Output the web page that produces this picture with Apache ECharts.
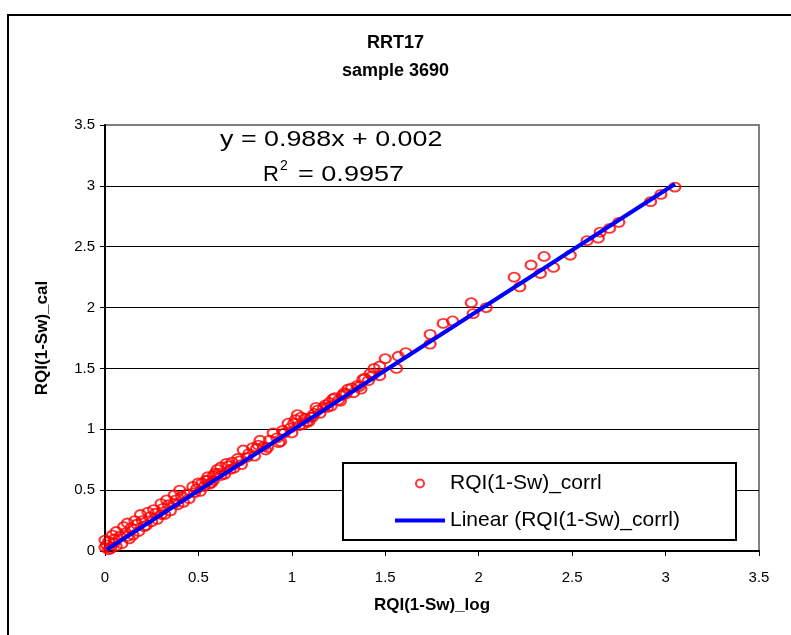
<!DOCTYPE html>
<html>
<head>
<meta charset="utf-8">
<script src="https://cdn.jsdelivr.net/npm/echarts@6/dist/echarts.min.js"></script>
<style>html,body{margin:0;padding:0;background:#fff;}#c{width:791px;height:635px;}</style>
</head>
<body>
<div id="c"></div>
<script>
// RQI(1-Sw)_log values (x) and RQI(1-Sw)_cal values (y)
var xLog = [3.05,2.975,2.92,2.75,2.70,2.65,2.64,2.58,2.49,2.40,2.35,2.33,2.28,2.22,2.19,2.04,1.97,1.96,1.86,1.81,1.74,1.74,1.61,1.57,1.56,1.50,1.47,1.44,1.42,1.47,1.39,1.38,1.36,1.32,1.30,1.28,1.27,1.25,1.23,1.20,1.19,1.17,1.14,1.12,1.10,1.07,1.05,1.06,
1.13,1.08,1.03,1.02,0.98,0.95,0.90,0.83,0.82,0.79,0.74,0.71,0.68,0.65,0.62,0.60,0.58,0.55,0.54,0.52,0.94,0.87,0.76,0.67,0.62,
0.59,0.55,0.50,0.47,0.40,0.37,0.33,0.30,0.26,0.23,0.19,0.16,0.12,0.10,0.06,0.04,0.00,0.00,0.02,0.48,0.39,0.30,0.21,0.12,0.05,0.57,0.37,
0.01,0.02,0.03,0.05,0.06,0.08,0.09,0.11,0.13,0.14,0.15,0.17,0.18,0.20,0.22,0.24,0.25,0.27,0.28,0.31,0.32,0.34,0.35,0.38,0.41,0.42,0.44,0.45,0.49,0.51,0.53,0.56,0.58,0.61,0.64,0.66,0.69,0.72,0.73,0.77,0.80,0.81,0.85,0.86,0.88,0.92,0.93,0.96,0.99,1.00,1.01,1.04,1.09,1.11,1.15,1.18,1.21,1.22,1.26,1.29,1.33,1.35,1.37,1.41,1.43];
var yCal = [2.99,2.93,2.87,2.70,2.65,2.62,2.57,2.55,2.43,2.33,2.42,2.28,2.35,2.17,2.25,2.00,1.95,2.04,1.89,1.87,1.70,1.78,1.63,1.60,1.50,1.58,1.52,1.50,1.46,1.44,1.42,1.41,1.35,1.34,1.33,1.30,1.28,1.24,1.26,1.22,1.18,1.18,1.16,1.13,1.10,1.09,1.10,1.04,
1.18,1.06,1.12,1.08,1.05,0.99,0.97,0.91,0.87,0.85,0.83,0.76,0.73,0.72,0.69,0.67,0.62,0.61,0.58,0.56,0.90,0.85,0.77,0.67,0.62,
0.64,0.58,0.56,0.53,0.50,0.46,0.42,0.39,0.34,0.32,0.30,0.25,0.23,0.20,0.16,0.13,0.09,0.03,0.01,0.48,0.38,0.30,0.20,0.12,0.07,0.56,0.39,
0.05,0.08,0.02,0.10,0.04,0.12,0.06,0.15,0.10,0.19,0.13,0.22,0.16,0.25,0.21,0.28,0.24,0.31,0.26,0.35,0.30,0.38,0.33,0.42,0.45,0.40,0.47,0.43,0.51,0.49,0.53,0.55,0.58,0.64,0.63,0.70,0.68,0.74,0.71,0.80,0.78,0.84,0.86,0.83,0.91,0.93,0.89,0.97,1.01,0.97,1.05,1.03,1.06,1.10,1.13,1.20,1.19,1.25,1.23,1.29,1.30,1.36,1.33,1.40,1.44];
var axisTicks = [0,0.5,1,1.5,2,2.5,3,3.5];
var trendSlope = 0.988, trendIntercept = 0.002;
var titleLines = ['RRT17','sample 3690'];
var seriesNames = ['RQI(1-Sw)_corrl','Linear (RQI(1-Sw)_corrl)'];

var pts = xLog.map(function(x,i){return [x,yCal[i]];});
var xmin = Math.min.apply(null,xLog), xmax = Math.max.apply(null,xLog);
var trend = [[xmin+0.01, trendSlope*(xmin+0.01)+trendIntercept],[xmax, trendSlope*xmax+trendIntercept]];

var F = 'Liberation Sans, Arial, sans-serif';
var chart = echarts.init(document.getElementById('c'));
var gridColors = axisTicks.map(function(t,i){return i===axisTicks.length-1?'#808080':'#000';});
chart.setOption({
  animation:false,
  backgroundColor:'#fff',
  title:{text:titleLines.join('\n'),left:'center',top:24,textStyle:{fontFamily:F,fontSize:18,fontWeight:'bold',color:'#000',lineHeight:28}},
  grid:{left:105,right:32,top:125,bottom:84,show:true,borderColor:'#808080',borderWidth:2,backgroundColor:'#fff'},
  xAxis:{type:'value',min:0,max:3.5,interval:0.5,name:'RQI(1-Sw)_log',nameLocation:'middle',nameGap:46,
    nameTextStyle:{fontFamily:F,fontSize:17,fontWeight:'bold',color:'#000'},
    axisLine:{show:true,onZero:false,lineStyle:{color:'#000',width:2}},
    axisTick:{show:true,inside:false,length:5,lineStyle:{color:'#000',width:1}},
    axisLabel:{margin:19,fontFamily:F,fontSize:15,color:'#000'},
    splitLine:{show:false}},
  yAxis:{type:'value',min:0,max:3.5,interval:0.5,name:'RQI(1-Sw)_cal',nameLocation:'middle',nameGap:54,
    nameTextStyle:{fontFamily:F,fontSize:17,fontWeight:'bold',color:'#000'},
    axisLine:{show:true,onZero:false,lineStyle:{color:'#000',width:2}},
    axisTick:{show:true,inside:false,length:5,lineStyle:{color:'#000',width:1}},
    axisLabel:{margin:10,fontFamily:F,fontSize:15,color:'#000'},
    splitLine:{show:true,lineStyle:{color:gridColors,width:1}}},
  legend:{orient:'vertical',left:395,top:473,padding:0,itemWidth:50,itemHeight:8,itemGap:16,z:10,
    textStyle:{fontFamily:F,fontSize:21,color:'#000'},
    data:[{name:seriesNames[0],icon:'circle',itemStyle:{color:'#fff',borderColor:'#ff0000',borderWidth:2}},
          {name:seriesNames[1],icon:'path://M0,0 L50,0 L50,4 L0,4 Z',itemStyle:{color:'#0000ff',borderWidth:0}}]},
  graphic:[
    {type:'rect',shape:{x:8,y:15,width:900,height:900},style:{fill:'none',stroke:'#000',lineWidth:2},z:-10,silent:true},
    {type:'rect',shape:{x:343,y:463,width:393,height:77},style:{fill:'#fff',stroke:'#000',lineWidth:2},z:9,silent:true},
    {type:'text',x:220,y:140,scaleX:1.22,z:9,style:{text:'y = 0.988x + 0.002',x:0,y:0,fill:'#000',font:'22px '+F,verticalAlign:'middle',align:'left'}},
    {type:'text',x:263,y:175,z:9,style:{text:'R',x:0,y:0,fill:'#000',font:'22px '+F,verticalAlign:'middle',align:'left'}},
    {type:'text',x:280,y:166,z:9,style:{text:'2',x:0,y:0,fill:'#000',font:'14px '+F,verticalAlign:'middle',align:'left'}},
    {type:'text',x:298,y:175,scaleX:1.23,z:9,style:{text:'= 0.9957',x:0,y:0,fill:'#000',font:'22px '+F,verticalAlign:'middle',align:'left'}}
  ],
  series:[
    {name:seriesNames[0],type:'scatter',data:pts,symbol:'circle',symbolSize:[11,9],
      itemStyle:{color:'none',borderColor:'#ff0000',borderWidth:2},z:3},
    {name:seriesNames[1],type:'line',data:trend,symbol:'none',showSymbol:false,
      lineStyle:{color:'#0000ff',width:4},itemStyle:{color:'#0000ff'},z:4}
  ]
});
</script>
</body>
</html>
